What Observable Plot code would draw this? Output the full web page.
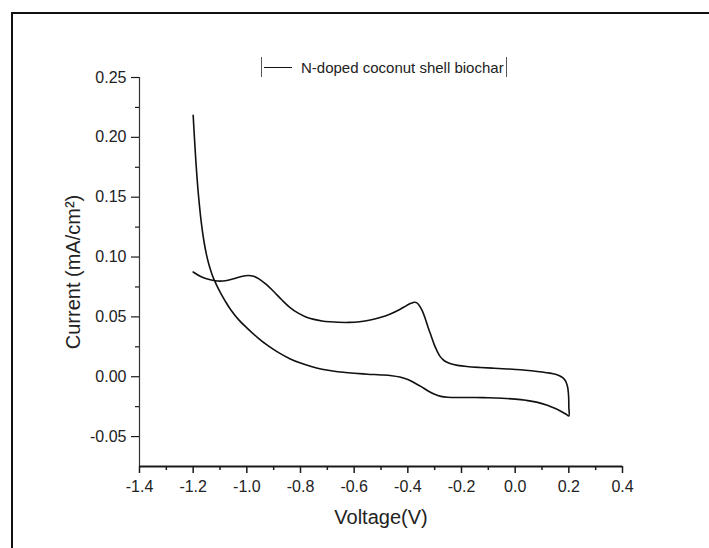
<!DOCTYPE html>
<html>
<head>
<meta charset="utf-8">
<script src="https://cdn.jsdelivr.net/npm/d3@7"></script>
<script src="https://cdn.jsdelivr.net/npm/@observablehq/plot@0.6"></script>
<style>
  html, body { margin: 0; padding: 0; background: #fff; }
  #wrap { position: relative; width: 709px; height: 548px; overflow: hidden; background: #fff; }
  #frame { position: absolute; left: 11px; top: 12px; width: 710px; height: 560px;
           border-top: 2px solid #111; border-left: 2px solid #111; pointer-events: none; }
  #legend { position: absolute; left: 261px; top: 57px; height: 20px; display: flex; align-items: center;
            border-left: 1px solid #555; border-right: 1px solid #555; padding: 0 2px 0 2px;
            font: 15px "Liberation Sans", Arial, sans-serif; color: #222; white-space: nowrap; }
  #legend .swatch { display: inline-block; width: 28px; border-top: 1.2px solid #111; margin-right: 9px; }
  #chart { position: absolute; left: 0; top: 0; }
</style>
</head>
<body>
<div id="wrap">
  <div id="chart"></div>
  <div id="frame"></div>
  <div id="legend"><span class="swatch"></span><span id="legendText"></span></div>
</div>
<script>
// ---- data (one continuous CV loop) ----
const seriesName = "N-doped coconut shell biochar";
const voltage = [
  -1.2000, -1.1950, -1.1900, -1.1850, -1.1800, -1.1700, -1.1600, -1.1500, -1.1400, -1.1300,
  -1.1200, -1.1000, -1.0800, -1.0600, -1.0300, -1.0000, -0.9600, -0.9200, -0.8800, -0.8400,
  -0.8000, -0.7600, -0.7200, -0.6800, -0.6400, -0.6000, -0.5500, -0.5000, -0.4600, -0.4300,
  -0.4000, -0.3760, -0.3500, -0.3260, -0.3000, -0.2770, -0.2520, -0.2000, -0.1500, -0.1000,
  -0.0500, 0.0000, 0.0400, 0.0800, 0.1200, 0.1500, 0.1750, 0.1900, 0.2000,
  0.2000, 0.1995, 0.1980, 0.1960, 0.1920, 0.1860, 0.1770, 0.1650, 0.1500, 0.1300,
  0.1000, 0.0600, 0.0200, -0.0300, -0.0800, -0.1300, -0.1800, -0.2150, -0.2400, -0.2580,
  -0.2700, -0.2800, -0.2900, -0.3020, -0.3130, -0.3240, -0.3350, -0.3460, -0.3580, -0.3680,
  -0.3760, -0.3880, -0.4050, -0.4300, -0.4630, -0.5000, -0.5400, -0.5800, -0.6200, -0.6600,
  -0.6900, -0.7200, -0.7500, -0.7800, -0.8100, -0.8400, -0.8700, -0.9000, -0.9300, -0.9550,
  -0.9750, -0.9950, -1.0200, -1.0500, -1.0800, -1.1100, -1.1400, -1.1700, -1.2000
];
const current = [
  0.2185, 0.1985, 0.1801, 0.1645, 0.1511, 0.1294, 0.1134, 0.1016, 0.0927, 0.0857,
  0.0801, 0.0709, 0.0630, 0.0560, 0.0475, 0.0408, 0.0327, 0.0257, 0.0199, 0.0151,
  0.0114, 0.0085, 0.0063, 0.0048, 0.0037, 0.0029, 0.0021, 0.0015, 0.0008, -0.0003,
  -0.0023, -0.0050, -0.0083, -0.0117, -0.0147, -0.0164, -0.0172, -0.0174, -0.0174, -0.0176,
  -0.0180, -0.0187, -0.0197, -0.0212, -0.0238, -0.0266, -0.0294, -0.0313, -0.0328,
  -0.0250, -0.0180, -0.0130, -0.0092, -0.0058, -0.0030, -0.0008, 0.0008, 0.0020, 0.0030,
  0.0040, 0.0050, 0.0058, 0.0065, 0.0071, 0.0077, 0.0085, 0.0095, 0.0108, 0.0125,
  0.0145, 0.0170, 0.0210, 0.0270, 0.0340, 0.0410, 0.0485, 0.0550, 0.0598, 0.0619,
  0.0622, 0.0613, 0.0594, 0.0562, 0.0527, 0.0497, 0.0474, 0.0460, 0.0454, 0.0455,
  0.0459, 0.0466, 0.0479, 0.0500, 0.0533, 0.0580, 0.0643, 0.0712, 0.0775, 0.0818,
  0.0840, 0.0846, 0.0838, 0.0818, 0.0802, 0.0800, 0.0812, 0.0835, 0.0875
];
const xMajorTicks = [-1.4, -1.2, -1.0, -0.8, -0.6, -0.4, -0.2, 0.0, 0.2, 0.4];
const xMinorTicks = [-1.3, -1.1, -0.9, -0.7, -0.5, -0.3, -0.1, 0.1, 0.3];
const yMajorTicks = [-0.05, 0.00, 0.05, 0.10, 0.15, 0.20, 0.25];
const yMinorTicks = [-0.025, 0.025, 0.075, 0.125, 0.175, 0.225];
const xDomain = [-1.4, 0.4];
const yDomain = [-0.075, 0.25];
const xTitle = "Voltage(V)";
const yTitle = "Current (mA/cm²)";

const rows = voltage.map((v, i) => ({v, c: current[i]}));
const ink = "#1a1a1a";

const chart = Plot.plot({
  width: 709,
  height: 548,
  marginLeft: 139,
  marginRight: 87,
  marginTop: 77,
  marginBottom: 82,
  x: {domain: xDomain},
  y: {domain: yDomain},
  style: {fontFamily: '"Liberation Sans", Arial, sans-serif', fontSize: "16px", color: ink, background: "transparent", overflow: "visible"},
  marks: [
    Plot.ruleX([xDomain[0]], {stroke: "#333", strokeWidth: 1.2}),
    Plot.ruleY([yDomain[0]], {stroke: ink, strokeWidth: 2}),
    Plot.axisX(xMajorTicks, {tickSize: 7, tickPadding: 7, strokeWidth: 1.5, tickFormat: d => d.toFixed(1), label: null, fill: "#222", fontSize: 16}),
    Plot.axisX(xMinorTicks, {tickSize: 4, strokeWidth: 1.5, tickFormat: () => "", label: null}),
    Plot.axisY(yMajorTicks, {tickSize: 8, tickPadding: 5, strokeWidth: 1.2, tickFormat: d => d.toFixed(2), label: null, fill: "#222", fontSize: 16}),
    Plot.axisY(yMinorTicks, {tickSize: 4, strokeWidth: 1.2, tickFormat: () => "", label: null}),
    Plot.text([xTitle], {frameAnchor: "bottom", dy: 51, textAnchor: "middle", lineAnchor: "middle", fontSize: 20, fill: "#222"}),
    Plot.text([yTitle], {frameAnchor: "left", dx: -66, rotate: -90, textAnchor: "middle", lineAnchor: "middle", fontSize: 20, fill: "#222"}),
    Plot.line(rows, {x: "v", y: "c", curve: "catmull-rom", stroke: "#111", strokeWidth: 1.6})
  ]
});
document.getElementById("chart").appendChild(chart);
document.getElementById("legendText").textContent = seriesName;
</script>
</body>
</html>
